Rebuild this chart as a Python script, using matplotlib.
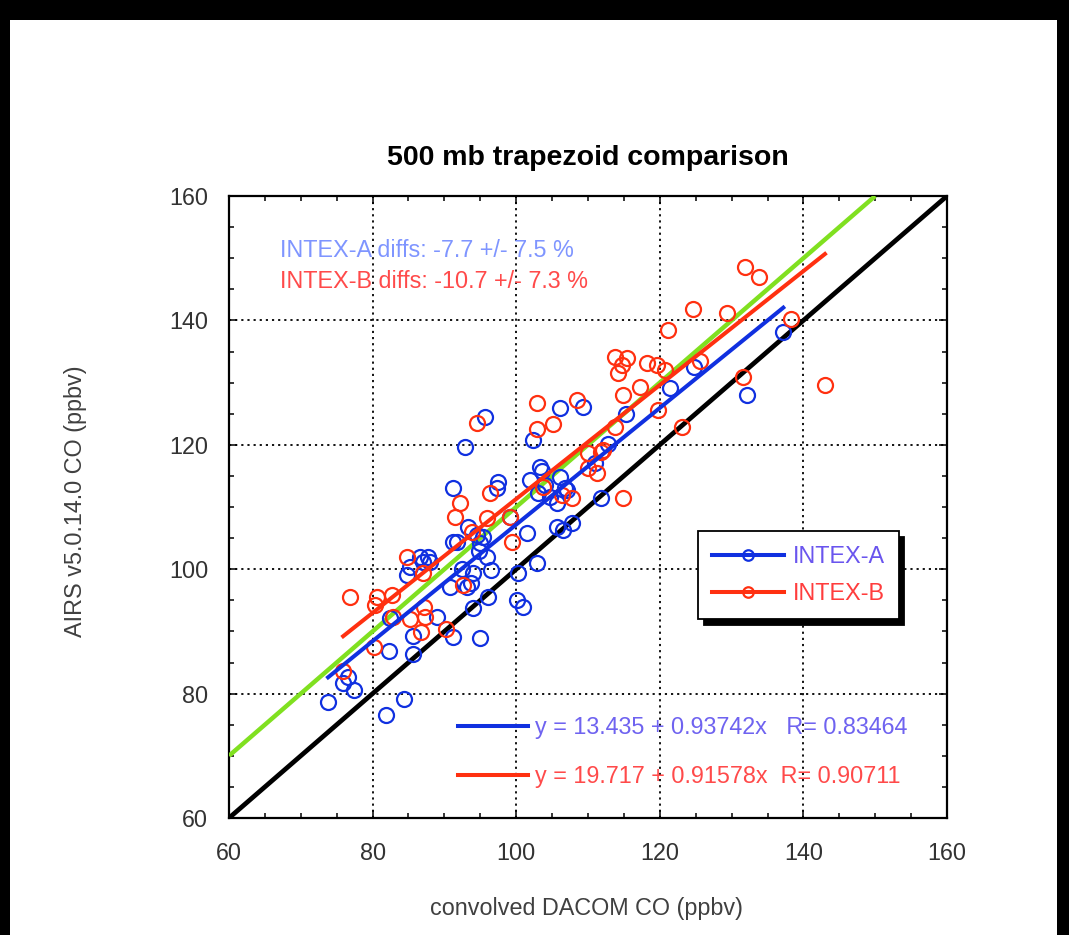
import matplotlib
matplotlib.use("Agg")
import matplotlib.pyplot as plt
from matplotlib.lines import Line2D
from matplotlib.patches import Rectangle
from matplotlib.ticker import MultipleLocator
import numpy as np

plt.rcParams['font.family'] = ['Liberation Sans', 'DejaVu Sans']

# ---------------- data ----------------
intex_a_x = [73.8, 75.9, 76.6, 77.4, 81.9, 84.4, 82.3, 85.6, 85.6, 91.2, 95.0, 94.0, 89.0, 82.4,
             86.6, 87.7, 87.0, 88.0, 84.8, 85.2, 93.1, 90.8, 91.2, 93.3, 91.2, 91.8, 94.5, 95.0,
             95.7, 92.9, 106.1, 109.3, 102.3, 97.5, 97.3, 103.3, 103.6, 101.9, 106.1, 104.0,
             105.7, 104.7, 107.1, 103.0, 101.5, 99.1, 105.7, 106.5, 107.8, 102.9, 100.3, 100.1,
             101.0, 96.1, 95.4, 95.9, 94.0, 93.7, 111.0, 111.8, 112.8, 115.3, 121.4, 124.7,
             137.2, 132.1, 94.8, 96.5, 92.5, 106.8]
intex_a_y = [78.6, 81.7, 82.6, 80.6, 76.6, 79.1, 86.9, 86.3, 89.2, 89.1, 88.9, 93.7, 92.3, 92.2,
             102.0, 102.0, 101.2, 101.2, 99.1, 100.4, 97.1, 97.1, 113.1, 106.8, 104.4, 104.4, 105.5,
             104.2, 124.5, 119.6, 125.9, 126.1, 120.8, 114.0, 113.1, 116.4, 115.8, 114.3, 114.8,
             113.5, 110.6, 111.6, 112.7, 112.2, 105.8, 108.4, 106.8, 106.3, 107.4, 101.0, 99.4,
             95.0, 93.9, 95.5, 105.2, 102.0, 99.4, 97.8, 117.1, 111.4, 120.2, 124.9, 129.1, 132.5,
             138.2, 128.0, 103.0, 99.8, 100.0, 113.1]

intex_b_x = [75.9, 80.2, 82.8, 85.2, 87.1, 86.7, 90.2, 92.2, 91.5, 96.4, 84.8, 87.0, 76.9, 80.6,
             82.7, 87.3, 92.6, 93.8, 94.5, 102.9, 108.5, 102.9, 105.1, 95.9, 99.1, 99.4, 103.7,
             106.4, 107.8, 110.0, 110.0, 111.3, 121.1, 113.8, 115.4, 114.7, 114.2, 118.2, 119.6,
             120.7, 117.2, 114.9, 119.7, 125.6, 123.1, 113.8, 112.1, 114.9, 131.9, 133.8, 124.6,
             129.4, 138.3, 131.6, 143.0, 111.8, 80.3]
intex_b_y = [83.6, 87.5, 92.3, 92.0, 94.0, 89.9, 90.4, 110.6, 108.4, 112.3, 102.0, 99.4, 95.5, 95.5,
             95.9, 92.3, 97.5, 106.0, 123.5, 126.7, 127.2, 122.6, 123.3, 108.2, 108.4, 104.4, 113.2,
             111.9, 111.4, 118.7, 116.3, 115.5, 138.5, 134.1, 134.0, 132.8, 131.5, 133.2, 132.8,
             132.0, 129.3, 128.0, 125.6, 133.4, 122.9, 122.9, 119.2, 111.4, 148.6, 147.0, 141.8,
             141.2, 140.2, 130.9, 129.6, 118.8, 94.2]

fit_a = (13.435, 0.93742, 0.83464)   # intercept, slope, R
fit_b = (19.717, 0.91578, 0.90711)

one_to_one_x = [60, 160]
offset_line_x = [60, 150]
offset_line_dy = 10

diff_a_text = "INTEX-A diffs: -7.7 +/- 7.5 %"
diff_b_text = "INTEX-B diffs: -10.7 +/- 7.3 %"

# ---------------- styling ----------------
W, H = 1069, 935
fig = plt.figure(figsize=(W / 100, H / 100), dpi=100)
fig.patch.set_facecolor('white')

# black borders of the screenshot
for (x0, y0, w, h) in [(0, H - 20, W, 20), (0, 0, 10, H), (1057, 0, 12, H)]:
    fig.patches.append(Rectangle((x0 / W, y0 / H), w / W, h / H, transform=fig.transFigure,
                                 facecolor='black', edgecolor='none', zorder=0))

ax = fig.add_axes([229 / W, 1 - 818 / H, (947 - 229) / W, (818 - 196) / H])

BLUE = '#1030e0'
RED = '#ff3010'
GREEN = '#80e020'
FS = 16.8
MS = 10.8
MEW = 1.6

ax.set_xlim(60, 160)
ax.set_ylim(60, 160)
ax.xaxis.set_major_locator(MultipleLocator(20))
ax.yaxis.set_major_locator(MultipleLocator(20))
ax.xaxis.set_minor_locator(MultipleLocator(5))
ax.yaxis.set_minor_locator(MultipleLocator(5))
ax.tick_params(which='both', direction='in', top=True, right=True, width=1.1, colors='black',
               labelcolor='#333333', labelsize=FS)
ax.tick_params(which='major', length=6)
ax.tick_params(which='minor', length=3.6)
ax.tick_params(axis='y', pad=15)
ax.tick_params(axis='x', pad=17)
for s in ax.spines.values():
    s.set_linewidth(1.6)
ax.grid(True, which='major', color='black', linestyle=(0, (1.2, 2.2)), linewidth=1.3)
ax.set_axisbelow(True)

# reference lines
rx = np.array(one_to_one_x, dtype=float)
ax.plot(rx, rx, color='black', lw=3.4, zorder=3, solid_capstyle='butt')
gx = np.array(offset_line_x, dtype=float)
ax.plot(gx, gx + offset_line_dy, color=GREEN, lw=3.2, zorder=3, solid_capstyle='butt')

# scatter
ax.plot(intex_a_x, intex_a_y, linestyle='none', marker='o', markersize=MS, markerfacecolor='none',
        markeredgecolor=BLUE, markeredgewidth=MEW, zorder=4)
ax.plot(intex_b_x, intex_b_y, linestyle='none', marker='o', markersize=MS, markerfacecolor='none',
        markeredgecolor=RED, markeredgewidth=MEW, zorder=4)

# fit lines
xa = np.array([min(intex_a_x), max(intex_a_x)])
ax.plot(xa, fit_a[0] + fit_a[1] * xa, color=BLUE, lw=2.9, zorder=5)
xb = np.array([min(intex_b_x), max(intex_b_x)])
ax.plot(xb, fit_b[0] + fit_b[1] * xb, color=RED, lw=2.9, zorder=5)

# diff texts
ax.text(0.071, 0.913, diff_a_text, transform=ax.transAxes, color='#7f95ff', fontsize=FS,
        ha='left', va='center')
ax.text(0.071, 0.862, diff_b_text, transform=ax.transAxes, color='#ff4a4a', fontsize=FS,
        ha='left', va='center')

# series legend
h_a = Line2D([], [], color=BLUE, lw=2.9, marker='o', markersize=MS, markerfacecolor='none',
             markeredgecolor=BLUE, markeredgewidth=MEW)
h_b = Line2D([], [], color=RED, lw=2.9, marker='o', markersize=MS, markerfacecolor='none',
             markeredgecolor=RED, markeredgewidth=MEW)
leg1 = ax.legend([h_a, h_b], ['INTEX-A', 'INTEX-B'], loc='upper left',
                 bbox_to_anchor=((698 - 229) / 718, (818 - 531) / 622), borderaxespad=0,
                 fontsize=FS, handlelength=3.1, handletextpad=0.35, labelspacing=0.6,
                 borderpad=0.6, markerscale=0.7, numpoints=1, fancybox=False,
                 framealpha=1, edgecolor='black',
                 shadow={'ox': 4, 'oy': -4, 'facecolor': 'black', 'edgecolor': 'black', 'alpha': 1})
leg1.get_frame().set_linewidth(1.3)
leg1.get_texts()[0].set_color('#6a55ee')
leg1.get_texts()[1].set_color('#ff3d3d')
ax.add_artist(leg1)

# fit legend
eq_a = f"y = {fit_a[0]:.3f} + {fit_a[1]:.5f}x   R= {fit_a[2]:.5f}"
eq_b = f"y = {fit_b[0]:.3f} + {fit_b[1]:.5f}x  R= {fit_b[2]:.5f}"
f_a = Line2D([], [], color=BLUE, lw=2.9)
f_b = Line2D([], [], color=RED, lw=2.9)
leg2 = ax.legend([f_a, f_b], [eq_a, eq_b], loc='upper left',
                 bbox_to_anchor=((458 - 229) / 718, (818 - 716) / 622), borderaxespad=0,
                 fontsize=FS, handlelength=3.0, handletextpad=0.3, labelspacing=1.13,
                 borderpad=0, frameon=False)
leg2.get_texts()[0].set_color('#6f63f0')
leg2.get_texts()[1].set_color('#ff4a4a')

# titles and labels
fig.text(588 / W, 1 - 158 / H, '500 mb trapezoid comparison', fontsize=20.5, fontweight='bold',
         ha='center', va='center', color='black')
fig.text(587 / W, 1 - 908 / H, 'convolved DACOM CO (ppbv)', fontsize=FS, ha='center',
         va='center', color='#404040')
fig.text(76 / W, 1 - 501 / H, 'AIRS v5.0.14.0 CO (ppbv)', fontsize=FS, ha='center',
         va='center', rotation=90, color='#404040')

fig.savefig('out.png', dpi=100, facecolor=fig.get_facecolor())
